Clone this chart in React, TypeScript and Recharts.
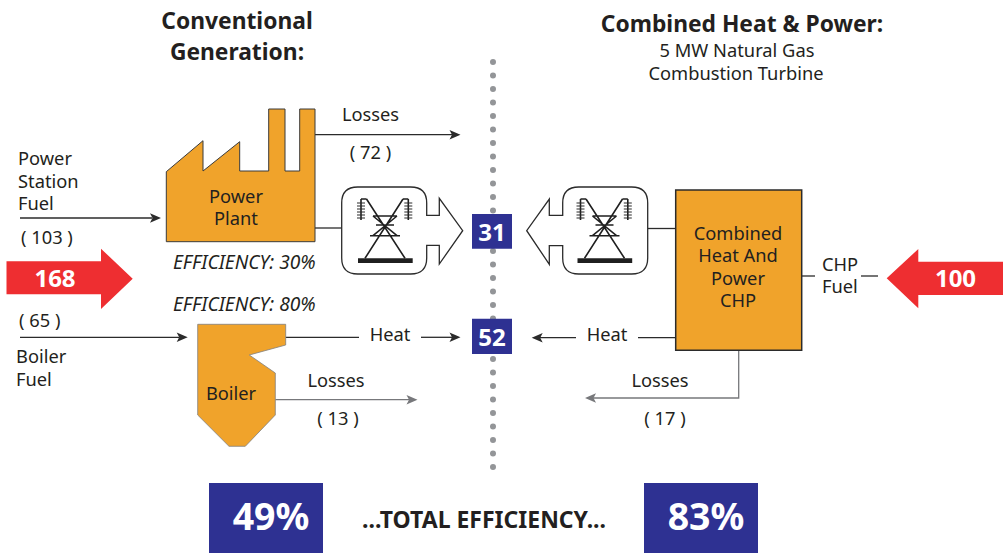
import { ScatterChart, Scatter, XAxis, YAxis } from 'recharts';

type Pt = { x: number; y: number; r?: number };
type Label = { x: number; y: number; text: string };

const WIDTH = 1003;
const HEIGHT = 553;
const FONT = '"Noto Sans", sans-serif';
const ORANGE = '#f0a32b';
const BLUE = '#2e3192';
const RED = '#ee2e31';
const DARK = '#2b2b2b';
const GREY = '#77787b';

// values
const fuelInputs = [168, 100];
const conventionalFlows = [103, 65, 72, 13];
const chpLosses = [17];
const usefulOutputs = [31, 52];
const unitEfficiency = [30, 80];
const totalEfficiency = [49, 83];

// outlines, in picture units
const factoryOutline: Pt[] = [
  { x: 166.3, y: 241.7 }, { x: 166.3, y: 171.7 }, { x: 203, y: 140.7 }, { x: 203, y: 171 },
  { x: 239.7, y: 141.7 }, { x: 239.7, y: 171 }, { x: 268.7, y: 171 }, { x: 268.7, y: 109 },
  { x: 285, y: 109 }, { x: 285, y: 171 }, { x: 299.7, y: 171 }, { x: 299.7, y: 109 },
  { x: 315, y: 109 }, { x: 315, y: 241.7 },
];
const boilerOutline: Pt[] = [
  { x: 197.7, y: 324.3 }, { x: 285.7, y: 324.3 }, { x: 285.7, y: 345 }, { x: 249.3, y: 355 },
  { x: 275.3, y: 373 }, { x: 275.3, y: 415 }, { x: 245.3, y: 446.3 }, { x: 229, y: 446.3 }, { x: 197.7, y: 415 },
];
const chpOutline: Pt[] = [
  { x: 675.7, y: 190 }, { x: 801.7, y: 190 }, { x: 801.7, y: 350.3 }, { x: 675.7, y: 350.3 },
];
const leftFuelArrow: Pt[] = [
  { x: 6.5, y: 261.3 }, { x: 101, y: 261.3 }, { x: 101, y: 248.7 }, { x: 132.7, y: 278.7 },
  { x: 101, y: 309 }, { x: 101, y: 294.3 }, { x: 6.5, y: 294.3 },
];
const rightFuelArrow: Pt[] = [
  { x: 1003, y: 261.7 }, { x: 918.3, y: 261.7 }, { x: 918.3, y: 249 }, { x: 886.7, y: 278.3 },
  { x: 918.3, y: 308.3 }, { x: 918.3, y: 295 }, { x: 1003, y: 295 },
];
const leftPylonBox: Pt[] = [
  { x: 341.7, y: 187, r: 16 }, { x: 426.7, y: 187, r: 16 }, { x: 426.7, y: 215.3 }, { x: 439.3, y: 215.3 },
  { x: 439.3, y: 198.3 }, { x: 462.7, y: 230.7 }, { x: 439.3, y: 264 }, { x: 439.3, y: 245.3 },
  { x: 426.7, y: 245.3 }, { x: 426.7, y: 274, r: 16 }, { x: 341.7, y: 274, r: 16 },
];
const rightPylonBox: Pt[] = [
  { x: 647.7, y: 187, r: 16 }, { x: 562.7, y: 187, r: 16 }, { x: 562.7, y: 215.3 }, { x: 549.3, y: 215.3 },
  { x: 549.3, y: 199 }, { x: 526.7, y: 230.7 }, { x: 549.3, y: 264.3 }, { x: 549.3, y: 245.7 },
  { x: 562.7, y: 245.7 }, { x: 562.7, y: 274, r: 16 }, { x: 647.7, y: 274, r: 16 },
];
const pylonBase: Pt[] = [
  { x: 358, y: 258.3 }, { x: 412.7, y: 258.3 }, { x: 412.7, y: 263 }, { x: 358, y: 263 },
];
// pairs of points, each pair one stroke
const pylonStrokes: Pt[] = [
  { x: 361, y: 199 }, { x: 366.5, y: 199 }, { x: 403, y: 199 }, { x: 408.3, y: 199 },
  { x: 366.5, y: 199 }, { x: 405, y: 258.3 }, { x: 403, y: 199 }, { x: 365, y: 258.3 },
  { x: 373, y: 216 }, { x: 397, y: 216 }, { x: 376, y: 225 }, { x: 394, y: 225 }, { x: 370, y: 235.7 }, { x: 400, y: 235.7 },
  { x: 373, y: 216 }, { x: 397, y: 235.7 }, { x: 397, y: 216 }, { x: 373, y: 235.7 },
  { x: 361, y: 199 }, { x: 361, y: 220 }, { x: 408.3, y: 199 }, { x: 408.3, y: 220 },
];
const insulatorRungs = [203, 206, 209, 212, 215, 218];

const separator: Pt[] = [{ x: 493, y: 62 }, { x: 493, y: 479 }];

const blueBoxes: Pt[][] = [
  [{ x: 472, y: 214 }, { x: 512, y: 214 }, { x: 512, y: 248.7 }, { x: 472, y: 248.7 }],
  [{ x: 472, y: 318.7 }, { x: 512, y: 318.7 }, { x: 512, y: 354 }, { x: 472, y: 354 }],
  [{ x: 209, y: 483 }, { x: 323, y: 483 }, { x: 323, y: 553 }, { x: 209, y: 553 }],
  [{ x: 644, y: 483 }, { x: 758, y: 483 }, { x: 758, y: 553 }, { x: 644, y: 553 }],
];

const darkWires: Pt[][] = [
  [{ x: 20, y: 218 }, { x: 152, y: 218 }],
  [{ x: 315, y: 134.7 }, { x: 452, y: 134.7 }],
  [{ x: 315, y: 228 }, { x: 341.7, y: 228 }],
  [{ x: 647.7, y: 228.5 }, { x: 675.7, y: 228.5 }],
  [{ x: 20, y: 337.3 }, { x: 179, y: 337.3 }],
  [{ x: 285.7, y: 337.3 }, { x: 359, y: 337.3 }],
  [{ x: 421, y: 337.3 }, { x: 452, y: 337.3 }],
  [{ x: 638, y: 337.7 }, { x: 675.7, y: 337.7 }],
  [{ x: 540, y: 337.7 }, { x: 576, y: 337.7 }],
  [{ x: 801.7, y: 276 }, { x: 815, y: 276 }],
  [{ x: 861, y: 276 }, { x: 878, y: 276 }],
];
const greyWires: Pt[][] = [
  [{ x: 275.3, y: 399.7 }, { x: 409, y: 399.7 }],
  [{ x: 738.7, y: 350.3 }, { x: 738.7, y: 398 }, { x: 593, y: 398 }],
];
const darkArrowTips: Pt[] = [
  { x: 161, y: 218, r: 1 }, { x: 460.5, y: 134.7, r: 1 }, { x: 187.7, y: 337.3, r: 1 },
  { x: 460.5, y: 337.3, r: 1 }, { x: 531.7, y: 337.7, r: -1 },
];
const greyArrowTips: Pt[] = [{ x: 417.5, y: 399.7, r: 1 }, { x: 585, y: 398, r: -1 }];

const titleLabels: Label[] = [
  { x: 237, y: 29, text: 'Conventional' },
  { x: 237, y: 60, text: 'Generation:' },
  { x: 742, y: 32, text: 'Combined Heat & Power:' },
];
const centredLabels: Label[] = [
  { x: 737, y: 57, text: '5 MW Natural Gas' },
  { x: 736, y: 80, text: 'Combustion Turbine' },
  { x: 370.5, y: 121, text: 'Losses' },
  { x: 370.5, y: 159, text: `( ${conventionalFlows[2]} )` },
  { x: 236, y: 203, text: 'Power' },
  { x: 236, y: 225, text: 'Plant' },
  { x: 231, y: 400, text: 'Boiler' },
  { x: 390, y: 341, text: 'Heat' },
  { x: 336, y: 386.7, text: 'Losses' },
  { x: 338, y: 425, text: `( ${conventionalFlows[3]} )` },
  { x: 738, y: 240, text: 'Combined' },
  { x: 738, y: 262, text: 'Heat And' },
  { x: 738, y: 285, text: 'Power' },
  { x: 738, y: 306.7, text: 'CHP' },
  { x: 607, y: 341, text: 'Heat' },
  { x: 660, y: 387, text: 'Losses' },
  { x: 665, y: 425, text: `( ${chpLosses[0]} )` },
];
const leftLabels: Label[] = [
  { x: 18, y: 165, text: 'Power' },
  { x: 18, y: 187.7, text: 'Station' },
  { x: 18, y: 210, text: 'Fuel' },
  { x: 21, y: 244, text: `( ${conventionalFlows[0]} )` },
  { x: 19, y: 327.3, text: `( ${conventionalFlows[1]} )` },
  { x: 16, y: 362.7, text: 'Boiler' },
  { x: 16, y: 385.7, text: 'Fuel' },
  { x: 822, y: 271, text: 'CHP' },
  { x: 822, y: 293, text: 'Fuel' },
];
const italicLabels: Label[] = [
  { x: 173, y: 269.3, text: `EFFICIENCY: ${unitEfficiency[0]}%` },
  { x: 173, y: 311, text: `EFFICIENCY: ${unitEfficiency[1]}%` },
];
const valueLabels: Label[] = [
  { x: 55, y: 287, text: String(fuelInputs[0]) },
  { x: 955.5, y: 287, text: String(fuelInputs[1]) },
  { x: 492, y: 241, text: String(usefulOutputs[0]) },
  { x: 492, y: 346, text: String(usefulOutputs[1]) },
];
const totalLabels: Label[] = [
  { x: 271, y: 530, text: `${totalEfficiency[0]}%` },
  { x: 706, y: 530, text: `${totalEfficiency[1]}%` },
];
const captionLabels: Label[] = [{ x: 484, y: 528, text: '...TOTAL EFFICIENCY...' }];

const shifted = (pts: Pt[], dx: number) => pts.map((p) => ({ ...p, x: p.x + dx }));

const noMark = () => <g />;

// outline through the scaled points, r on a point rounds that corner
function outlinePath(scaled: { x: number; y: number }[], src: Pt[], closed: boolean) {
  let d = '';
  scaled.forEach((p, i) => {
    const r = src[i].r;
    if (r && r > 0) {
      const prev = scaled[(i - 1 + scaled.length) % scaled.length];
      const next = scaled[(i + 1) % scaled.length];
      const lp = Math.hypot(prev.x - p.x, prev.y - p.y);
      const ln = Math.hypot(next.x - p.x, next.y - p.y);
      const a = `${p.x + ((prev.x - p.x) * r) / lp},${p.y + ((prev.y - p.y) * r) / lp}`;
      const b = `${p.x + ((next.x - p.x) * r) / ln},${p.y + ((next.y - p.y) * r) / ln}`;
      d += `${i === 0 ? 'M' : 'L'}${a}Q${p.x},${p.y} ${b}`;
    } else {
      d += `${i === 0 ? 'M' : 'L'}${p.x},${p.y}`;
    }
  });
  return closed ? `${d}Z` : d;
}

function shapeSeries(
  name: string,
  pts: Pt[],
  style: { fill?: string; stroke?: string; strokeWidth?: number; strokeDasharray?: string; strokeLinecap?: 'round' },
  closed = true,
) {
  return (
    <Scatter
      key={name}
      name={name}
      data={pts}
      isAnimationActive={false}
      shape={noMark}
      line={(p: any) => (
        <path key={name} d={outlinePath(p.points, pts, closed)} fill={style.fill ?? 'none'} stroke={style.stroke ?? 'none'} strokeWidth={style.strokeWidth} strokeDasharray={style.strokeDasharray} strokeLinecap={style.strokeLinecap} strokeLinejoin="miter" />
      )}
    />
  );
}

function strokesSeries(name: string, pts: Pt[], stroke: string, strokeWidth: number) {
  return (
    <Scatter
      key={name}
      name={name}
      data={pts}
      isAnimationActive={false}
      shape={noMark}
      line={(p: any) => {
        let d = '';
        p.points.forEach((q: { x: number; y: number }, i: number) => {
          d += `${i % 2 === 0 ? 'M' : 'L'}${q.x},${q.y}`;
        });
        return <path key={name} d={d} fill="none" stroke={stroke} strokeWidth={strokeWidth} />;
      }}
    />
  );
}

function arrowHead(tip: Pt): Pt[] {
  const dir = tip.r ?? 1;
  return [
    { x: tip.x, y: tip.y },
    { x: tip.x - dir * 11, y: tip.y - 4.7 },
    { x: tip.x - dir * 8.5, y: tip.y },
    { x: tip.x - dir * 11, y: tip.y + 4.7 },
  ];
}

function textSeries(
  name: string,
  labels: Label[],
  style: { fontSize: number; fill: string; fontWeight?: number; fontStyle?: string; anchor: 'start' | 'middle' },
) {
  return (
    <Scatter
      key={name}
      name={name}
      data={labels}
      isAnimationActive={false}
      shape={(p: any) => (
        <text x={p.cx} y={p.cy} textAnchor={style.anchor} fontFamily={FONT} fontSize={style.fontSize} fontWeight={style.fontWeight ?? 400} fontStyle={style.fontStyle} fill={style.fill}>
          {p.payload.text}
        </text>
      )}
    />
  );
}

function pylon(prefix: string, dx: number) {
  const rungs: Pt[] = [];
  [361, 408.3].forEach((cx) => {
    insulatorRungs.forEach((y) => {
      rungs.push({ x: cx - 4 + dx, y }, { x: cx + 4 + dx, y });
    });
  });
  return [
    strokesSeries(`${prefix}-strokes`, shifted(pylonStrokes, dx), '#1f1f1f', 1.6),
    strokesSeries(`${prefix}-rungs`, rungs, DARK, 1.1),
    shapeSeries(`${prefix}-base`, shifted(pylonBase, dx), { fill: '#1f1f1f' }),
  ];
}

export default function App() {
  return (
    <div style={{ position: 'absolute', left: 0, top: 0, width: WIDTH, height: HEIGHT, background: '#fff' }}>
      <ScatterChart width={WIDTH} height={HEIGHT} margin={{ top: 0, right: 0, bottom: 0, left: 0 }}>
        <XAxis type="number" dataKey="x" domain={[0, WIDTH]} hide />
        <YAxis type="number" dataKey="y" domain={[0, HEIGHT]} reversed hide />

        {shapeSeries('separator', separator, { stroke: '#939598', strokeWidth: 6, strokeDasharray: '0.1 13.4', strokeLinecap: 'round' }, false)}

        {darkWires.map((w, i) => shapeSeries(`wire-${i}`, w, { stroke: DARK, strokeWidth: 1.3 }, false))}
        {greyWires.map((w, i) => shapeSeries(`grey-wire-${i}`, w, { stroke: GREY, strokeWidth: 1.3 }, false))}
        {darkArrowTips.map((t, i) => shapeSeries(`tip-${i}`, arrowHead(t), { fill: DARK }))}
        {greyArrowTips.map((t, i) => shapeSeries(`grey-tip-${i}`, arrowHead(t), { fill: GREY }))}

        {shapeSeries('factory', factoryOutline, { fill: ORANGE, stroke: '#3a3a3a', strokeWidth: 1 })}
        {shapeSeries('boiler', boilerOutline, { fill: ORANGE, stroke: '#808080', strokeWidth: 0.8 })}
        {shapeSeries('chp', chpOutline, { fill: ORANGE, stroke: '#2b2b2b', strokeWidth: 1.5 })}

        {shapeSeries('fuel-left', leftFuelArrow, { fill: RED })}
        {shapeSeries('fuel-right', rightFuelArrow, { fill: RED })}

        {shapeSeries('pylon-left', leftPylonBox, { fill: '#fff', stroke: DARK, strokeWidth: 1.3 })}
        {shapeSeries('pylon-right', rightPylonBox, { fill: '#fff', stroke: DARK, strokeWidth: 1.3 })}
        {pylon('tower-left', 0)}
        {pylon('tower-right', 219.5)}

        {blueBoxes.map((b, i) => shapeSeries(`box-${i}`, b, { fill: BLUE }))}

        {textSeries('titles', titleLabels, { fontSize: 22.8, fontWeight: 700, fill: '#231f20', anchor: 'middle' })}
        {textSeries('centred', centredLabels, { fontSize: 18.3, fill: '#231f20', anchor: 'middle' })}
        {textSeries('left', leftLabels, { fontSize: 18.3, fill: '#231f20', anchor: 'start' })}
        {textSeries('italic', italicLabels, { fontSize: 19.2, fontStyle: 'italic', fill: '#231f20', anchor: 'start' })}
        {textSeries('values', valueLabels, { fontSize: 24, fontWeight: 700, fill: '#fff', anchor: 'middle' })}
        {textSeries('totals', totalLabels, { fontSize: 37.5, fontWeight: 700, fill: '#fff', anchor: 'middle' })}
        {textSeries('caption', captionLabels, { fontSize: 23, fontWeight: 700, fill: '#231f20', anchor: 'middle' })}
      </ScatterChart>
    </div>
  );
}
